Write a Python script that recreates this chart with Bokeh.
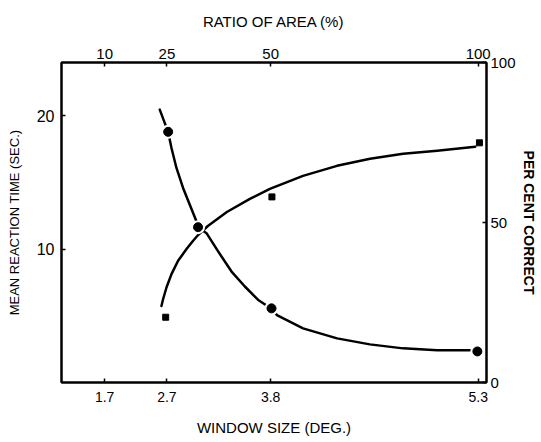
from bokeh.plotting import figure
from bokeh.models import Range1d, LinearAxis, FixedTicker
from bokeh.embed import file_html
from bokeh.resources import INLINE

# ---- data ----
area_ticks = [10, 25, 50, 100]                # ratio of area (%) – x positions
window_labels = ["1.7", "2.7", "3.8", "5.3"]  # window size (deg.)
area_labels = ["10", "25", "50", "100"]

rt_ticks = [10, 20]
pc_ticks = [0, 50, 100]

# mean reaction time (sec.) – filled circles
rt_x = [25.3, 32.5, 50.2, 99.8]
rt_y = [18.8, 11.65, 5.56, 2.33]

# per cent correct – filled squares
pc_x = [24.7, 50.3, 100.3]
pc_y = [20.4, 58.0, 74.9]

# hand-drawn fitted curves
rt_curve_x = [23.27, 25.28, 26.10, 27.30, 28.89, 30.51, 32.13, 32.51, 34.54,
              37.34, 40.57, 43.78, 46.99, 49.02, 50.23, 51.5, 57.8, 66.0,
              73.9, 81.9, 90.1, 98.1]
rt_curve_y = [20.47, 18.80, 17.59, 16.09, 14.59, 13.33, 12.08, 11.65, 11.20,
              9.83, 8.32, 7.20, 6.19, 5.77, 5.56, 5.06, 4.06, 3.31,
              2.86, 2.56, 2.41, 2.41]
pc_curve_x = [23.68, 24.07, 24.89, 26.10, 27.69, 29.72, 31.31, 32.51, 34.86,
              39.44, 44.99, 49.8, 57.78, 65.98, 73.95, 81.91, 90.12, 99.29]
pc_curve_y = [23.92, 26.02, 29.69, 33.86, 38.03, 41.69, 44.29, 46.08, 48.90,
              53.29, 57.37, 60.50, 64.58, 67.71, 69.91, 71.47, 72.41, 73.67]

FONT = "Liberation Sans"

p = figure(width=540, height=440, output_backend="svg", toolbar_location=None,
           x_range=Range1d(-0.4, 102), y_range=Range1d(0, 24),
           min_border_left=61, min_border_right=54, min_border_top=62,
           min_border_bottom=58, background_fill_color="white",
           border_fill_color="white")
p.extra_y_ranges = {"pc": Range1d(0, 100)}
p.xgrid.visible = False
p.ygrid.visible = False
p.outline_line_color = "black"
p.outline_line_width = 2


def style(ax, size="14px", label_size="15px"):
    ax.axis_line_color = "black"
    ax.axis_line_width = 2
    ax.major_tick_in = 4
    ax.major_tick_out = 0
    ax.major_tick_line_width = 1.5
    ax.minor_tick_line_color = None
    ax.major_label_text_font = FONT
    ax.major_label_text_font_size = size
    ax.major_label_text_color = "black"
    ax.axis_label_text_font = FONT
    ax.axis_label_text_font_size = label_size
    ax.axis_label_text_font_style = "normal"
    ax.axis_label_text_color = "black"


# bottom axis: window size
xb = p.xaxis[0]
xb.ticker = FixedTicker(ticks=area_ticks)
xb.major_label_overrides = dict(zip(area_ticks, window_labels))
xb.axis_label = "WINDOW SIZE (DEG.)"
style(xb, "14px", "15px")
xb.major_label_standoff = 9
xb.axis_label_standoff = 14

# top axis: ratio of area
xt = LinearAxis(ticker=FixedTicker(ticks=area_ticks),
                major_label_overrides=dict(zip(area_ticks, area_labels)),
                axis_label="RATIO OF AREA (%)")
style(xt, "15px", "15px")
xt.major_label_standoff = 4
xt.axis_label_standoff = 16
p.add_layout(xt, "above")

# left axis: reaction time
yl = p.yaxis[0]
yl.ticker = FixedTicker(ticks=rt_ticks)
yl.axis_label = "MEAN REACTION TIME (SEC.)"
style(yl, "16px", "13px")
yl.major_label_standoff = 7
yl.axis_label_standoff = 12

# right axis: per cent correct
yr = LinearAxis(y_range_name="pc", ticker=FixedTicker(ticks=pc_ticks),
                axis_label="PER CENT CORRECT")
style(yr, "15px", "14px")
yr.major_label_standoff = 4
yr.axis_label_standoff = 2
yr.axis_label_text_font_style = "bold"
p.add_layout(yr, "right")

# curves
p.line(rt_curve_x, rt_curve_y, line_color="black", line_width=2.5,
       line_join="round", line_cap="round")
p.line(pc_curve_x, pc_curve_y, line_color="black", line_width=2.5,
       line_join="round", line_cap="round", y_range_name="pc")

# white halo around the circles (gap in the curves), then the markers
p.scatter(rt_x, rt_y, marker="circle", size=14, fill_color="white",
          line_color=None)
p.scatter(rt_x, rt_y, marker="circle", size=9, fill_color="black",
          line_color="black")
p.scatter(pc_x, pc_y, marker="square", size=6, fill_color="black",
          line_color="black", y_range_name="pc")

open("out.html", "w").write(file_html(p, INLINE))
